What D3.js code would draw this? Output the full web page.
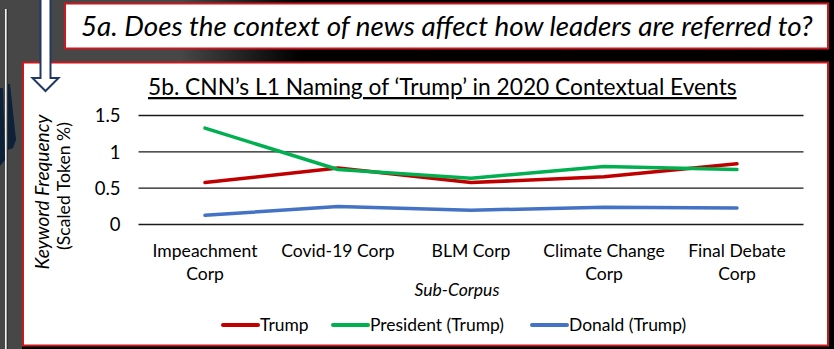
<!DOCTYPE html>
<html>
<head>
<meta charset="utf-8">
<script src="https://cdn.jsdelivr.net/npm/d3@7"></script>
<style>
  html, body { margin: 0; padding: 0; background: #474747; }
  svg { display: block; }
  text { font-family: Lato, "Open Sans", sans-serif; fill: #000; }
</style>
</head>
<body>
<svg id="chart" width="834" height="349"></svg>
<script>
// ---- data ----
const categories = ["Impeachment Corp", "Covid-19 Corp", "BLM Corp", "Climate Change Corp", "Final Debate Corp"];
const categoryLines = [["Impeachment", "Corp"], ["Covid-19 Corp"], ["BLM Corp"], ["Climate Change", "Corp"], ["Final Debate", "Corp"]];
const seriesNames = ["Trump", "President (Trump)", "Donald (Trump)"];
const trumpValues = [0.57, 0.77, 0.57, 0.65, 0.83];
const presidentValues = [1.32, 0.75, 0.63, 0.79, 0.75];
const donaldValues = [0.12, 0.24, 0.19, 0.23, 0.22];
const yTickValues = [0, 0.5, 1, 1.5];
const yTickLabels = ["0", "0.5", "1", "1.5"];
const seriesColors = ["#C00000", "#00B050", "#4472C4"];

const svg = d3.select("#chart");

// ---- background ----
const defs = svg.append("defs");
const grad = defs.append("linearGradient").attr("id", "bgGrad")
  .attr("x1", 0).attr("x2", 1).attr("y1", 0).attr("y2", 0);
grad.append("stop").attr("offset", "0").attr("stop-color", "#474747");
grad.append("stop").attr("offset", String(180/834)).attr("stop-color", "#474747");
grad.append("stop").attr("offset", String(300/834)).attr("stop-color", "#000");
grad.append("stop").attr("offset", "1").attr("stop-color", "#000");
svg.append("rect").attr("width", 834).attr("height", 349).attr("fill", "url(#bgGrad)");
svg.append("rect").attr("x", 22).attr("y", 340).attr("width", 812).attr("height", 9).attr("fill", "#000");
svg.append("rect").attr("x", 0).attr("y", 0).attr("width", 22).attr("height", 349).attr("fill", "#474747");
// navy decorative shapes
svg.append("path").attr("d", "M0,88 L3,88 L5,160 L0,166 Z").attr("fill", "#0d2138");
svg.append("path").attr("d", "M8,84 L10,84 L16,140 L13,148 L8,150 Z").attr("fill", "#0d2138");
// white vertical line
svg.append("rect").attr("x", 5).attr("y", 9).attr("width", 1.6).attr("height", 340).attr("fill", "#f2f2f2");
svg.append("rect").attr("x", 7).attr("y", 9).attr("width", 1).attr("height", 340).attr("fill", "#333");

// ---- boxes ----
svg.append("rect").attr("x", 65).attr("y", 3.5).attr("width", 763).attr("height", 45)
  .attr("fill", "#fff").attr("stroke", "#C8191E").attr("stroke-width", 2);
svg.append("rect").attr("x", 23).attr("y", 62.5).attr("width", 805).attr("height", 283)
  .attr("fill", "#fff").attr("stroke", "#C8191E").attr("stroke-width", 2);

function fitWidth(sel, target) {
  const fs = parseFloat(sel.style("font-size"));
  const w = sel.node().getComputedTextLength();
  const nfs = fs * target / w;
  sel.style("font-size", nfs + "px");
  return nfs;
}

// top question
const q = svg.append("text").attr("x", 81).attr("y", 36)
  .style("font-style", "italic").style("font-size", "22px")
  .text("5a. Does the context of news affect how leaders are referred to?");
fitWidth(q, 732);

// arrow
svg.append("path")
  .attr("d", "M40.5,-2 L40.5,78 L32.5,78 L45.5,91 L58.5,78 L50.5,78 L50.5,-2 Z")
  .attr("fill", "#fff").attr("stroke", "#1F3864").attr("stroke-width", 2)
  .attr("stroke-linejoin", "miter");

// chart title
const t = svg.append("text").attr("x", 148).attr("y", 95)
  .style("font-size", "19px").style("text-decoration", "underline")
  .text("5b. CNN\u2019s L1 Naming of \u2018Trump\u2019 in 2020 Contextual Events");
fitWidth(t, 589);

// ---- scales ----
const x = d3.scaleBand().domain(categories).range([138.5, 803.5]).padding(0);
const y = d3.scaleLinear().domain([0, 1.5]).range([224, 115]);

// y axis with gridlines
const yAxis = d3.axisLeft(y).tickValues(yTickValues)
  .tickFormat((d, i) => yTickLabels[i])
  .tickSize(-(803.5 - 138.5)).tickPadding(18);
const yg = svg.append("g").attr("transform", "translate(138.5,0)").call(yAxis);
yg.select(".domain").remove();
yg.selectAll(".tick line").attr("stroke", "#1a1a1a").attr("stroke-width", 1.3);
yg.selectAll(".tick text").style("font-family", "Lato, sans-serif").style("font-size", "18.5px").attr("fill", "#000").attr("dy", "0.36em");

// x labels: size fitted so "Impeachment" matches reference width
const probe = svg.append("text").style("font-size", "16px").text(categoryLines[0][0]);
const xfs = fitWidth(probe, 105);
probe.remove();
const xg = svg.append("g");
categories.forEach((c, i) => {
  const cx = x(c) + x.bandwidth() / 2;
  const tx = xg.append("text").attr("x", cx).attr("y", 257)
    .attr("text-anchor", "middle").style("font-size", xfs + "px");
  categoryLines[i].forEach((line, j) => {
    tx.append("tspan").attr("x", cx).attr("dy", j === 0 ? 0 : 23).text(line);
  });
});

// x axis title
svg.append("text").attr("x", 457).attr("y", 296).attr("text-anchor", "middle")
  .style("font-size", xfs + "px").style("font-style", "italic").text("Sub-Corpus");

// y axis title
const yt = svg.append("g").attr("transform", "translate(49,192) rotate(-90)");
const yt1 = yt.append("text").attr("text-anchor", "middle").style("font-size", "17px")
  .style("font-style", "italic").text("Keyword Frequency");
fitWidth(yt1, 155);
const yt2 = yt.append("text").attr("text-anchor", "middle").attr("y", 21).attr("x", 6).style("font-size", "17px")
  .text("(Scaled Token %)");
fitWidth(yt2, 128);

// ---- lines ----
const allSeries = [trumpValues, presidentValues, donaldValues];
const line = d3.line()
  .x((d, i) => x(categories[i]) + x.bandwidth() / 2)
  .y(d => y(d));
[2, 0, 1].forEach(k => {
  svg.append("path").datum(allSeries[k]).attr("d", line)
    .attr("fill", "none").attr("stroke", seriesColors[k])
    .attr("stroke-width", 3.5).attr("stroke-linecap", "round").attr("stroke-linejoin", "round");
});

// ---- legend ----
const legendX = [223, 333, 532];
const probe2 = svg.append("text").style("font-size", "16px").text(seriesNames[1]);
const lfs = fitWidth(probe2, 134);
probe2.remove();
const leg = svg.append("g");
seriesNames.forEach((name, k) => {
  leg.append("line").attr("x1", legendX[k]).attr("x2", legendX[k] + 35)
    .attr("y1", 325).attr("y2", 325)
    .attr("stroke", seriesColors[k]).attr("stroke-width", 4).attr("stroke-linecap", "round");
  leg.append("text").attr("x", legendX[k] + 37).attr("y", 331)
    .style("font-size", lfs + "px").text(name);
});
</script>
</body>
</html>
